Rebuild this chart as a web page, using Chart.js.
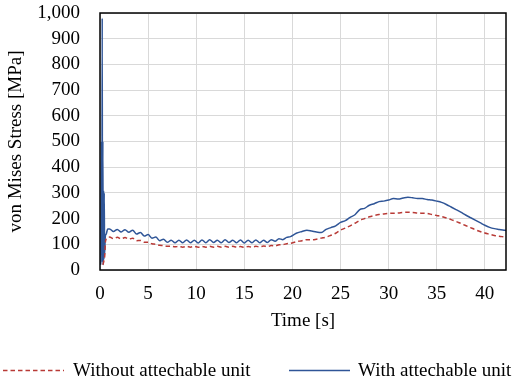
<!DOCTYPE html>
<html>
<head>
<meta charset="utf-8">
<script src="https://cdn.jsdelivr.net/npm/chart.js@4/dist/chart.umd.min.js"></script>
<style>
  html, body { margin: 0; padding: 0; background: #fff; }
  #wrap { width: 520px; height: 384px; position: relative; }
</style>
</head>
<body>
<div id="wrap"><canvas id="c" width="520" height="384"></canvas></div>
<script>
// ---- data ----
const seriesLabels = ["Without attechable unit", "With attechable unit"];

const withoutTime = [0.3, 0.4, 0.5, 0.55, 0.6, 0.7,
  1.0, 1.4, 1.8, 2.2, 2.6, 3.0, 3.4, 3.8, 4.2, 4.6, 5.0, 5.4, 5.8, 6.2, 6.6, 7.0, 7.4, 7.8, 8.2, 8.6,
  9.0, 9.4, 9.8, 10.2, 10.6, 11.0, 11.4, 11.8, 12.2, 12.6, 13.0, 13.4, 13.8, 14.2, 14.6, 15.0, 15.4, 15.8,
  16.2, 16.6, 17.0, 17.4, 17.8, 18.2, 18.6, 19.0, 19.4, 19.8,
  20.4, 21.0, 21.5, 22.0, 22.5, 23.0, 23.5, 24.0, 24.5, 25.0, 25.5, 26.0, 26.5, 27.0, 27.5, 28.0, 28.5,
  29.0, 29.5, 30.0, 30.5, 31.0, 31.5, 32.0, 32.5, 33.0, 33.5, 34.0, 34.5, 35.0, 35.5, 36.0, 36.5, 37.0,
  37.5, 38.0, 38.5, 39.0, 39.5, 40.0, 40.5, 41.0, 41.5, 42.0, 42.2];
const withoutStress = [20, 35, 60, 100, 120, 118,
  128, 122, 127, 121, 126, 120, 124, 114, 115, 108, 108, 102, 100, 96, 95, 92, 93, 90, 92, 89,
  92, 89, 92, 89, 92, 89, 92, 89, 92, 89, 92, 89, 92, 89, 91, 88, 91, 89,
  92, 90, 93, 91, 95, 94, 98, 99, 102, 104,
  110, 114, 118, 117, 120, 124, 128, 135, 143, 155, 163, 172, 182, 193, 200, 207, 212,
  216, 218, 220, 221, 222, 224, 225, 224, 222, 221, 220, 216, 212, 208, 202, 196, 189,
  181, 173, 165, 157, 150, 144, 139, 134, 131, 129, 128];

const withTime = [0.05, 0.1, 0.15, 0.2, 0.23, 0.26, 0.3, 0.33, 0.37, 0.4, 0.44, 0.48, 0.55, 0.65, 0.8,
  1.0, 1.4, 1.8, 2.2, 2.6, 3.0, 3.4, 3.8, 4.2, 4.6, 5.0, 5.4, 5.8, 6.2, 6.6, 7.0, 7.4, 7.8, 8.2, 8.6,
  9.0, 9.4, 9.8, 10.2, 10.6, 11.0, 11.4, 11.8, 12.2, 12.6, 13.0, 13.4, 13.8, 14.2, 14.6, 15.0, 15.4, 15.8,
  16.2, 16.6, 17.0, 17.4, 17.8, 18.2, 18.6, 19.0, 19.4, 19.8,
  20.4, 21.0, 21.5, 22.0, 22.5, 23.0, 23.5, 24.0, 24.5, 25.0, 25.5, 26.0, 26.5, 27.0, 27.5, 28.0, 28.5,
  29.0, 29.5, 30.0, 30.5, 31.0, 31.5, 32.0, 32.5, 33.0, 33.5, 34.0, 34.5, 35.0, 35.5, 36.0, 36.5, 37.0,
  37.5, 38.0, 38.5, 39.0, 39.5, 40.0, 40.5, 41.0, 41.5, 42.0, 42.2];
const withStress = [20, 40, 500, 60, 980, 30, 500, 20, 310, 40, 300, 60, 130, 140, 160,
  160, 150, 158, 148, 157, 147, 155, 140, 146, 132, 138, 124, 128, 114, 120, 108, 116, 106, 116, 106,
  117, 106, 116, 105, 117, 106, 118, 107, 116, 106, 118, 107, 116, 106, 117, 105, 116, 106,
  117, 106, 116, 107, 118, 112, 122, 118, 127, 130,
  143, 150, 155, 152, 148, 146, 158, 165, 172, 185, 192, 205, 215, 235, 240, 252, 258,
  266, 268, 272, 278, 276, 280, 283, 281, 278, 278, 274, 272, 268, 263, 255, 245, 235,
  225, 214, 204, 194, 184, 174, 166, 161, 158, 155, 154];

const yTicks = [0, 100, 200, 300, 400, 500, 600, 700, 800, 900, 1000];
const xTicks = [0, 5, 10, 15, 20, 25, 30, 35, 40];

// ---- styling ----
const FONT = "'Liberation Serif', 'Times New Roman', serif";
const RED = '#B83A36';
const BLUE = '#2F5597';

function toPoints(xs, ys) { return xs.map((x, i) => ({ x: x, y: ys[i] })); }

const frameAndLegend = {
  id: 'frameAndLegend',
  afterDatasetsDraw(chart) {
    const { ctx, chartArea: a } = chart;
    ctx.save();
    ctx.strokeStyle = '#000';
    ctx.lineWidth = 1.5;
    ctx.strokeRect(a.left, a.top, a.right - a.left, a.bottom - a.top);
    ctx.restore();
  },
  afterDraw(chart) {
    const ctx = chart.ctx;
    const items = [
      { ds: chart.data.datasets[0], lx: 3, tx: 73 },
      { ds: chart.data.datasets[1], lx: 289, tx: 358 }
    ];
    const y = 370.5;
    ctx.save();
    items.forEach(it => {
      ctx.beginPath();
      ctx.strokeStyle = it.ds.borderColor;
      ctx.lineWidth = it.ds.borderWidth;
      ctx.setLineDash(it.ds.borderDash || []);
      ctx.moveTo(it.lx, y);
      ctx.lineTo(it.lx + 61, y);
      ctx.stroke();
      ctx.setLineDash([]);
      ctx.fillStyle = '#000';
      ctx.font = "19px " + FONT;
      ctx.textBaseline = 'middle';
      ctx.textAlign = 'left';
      ctx.fillText(it.ds.label, it.tx, y + 1);
    });
    ctx.restore();
  }
};

new Chart(document.getElementById('c'), {
  type: 'line',
  data: {
    datasets: [
      {
        label: seriesLabels[0],
        data: toPoints(withoutTime, withoutStress),
        borderColor: RED,
        borderWidth: 1.5,
        borderDash: [4.5, 3],
        pointRadius: 0,
        fill: false,
        cubicInterpolationMode: 'monotone'
      },
      {
        label: seriesLabels[1],
        data: toPoints(withTime, withStress),
        borderColor: BLUE,
        borderWidth: 1.5,
        pointRadius: 0,
        fill: false,
        cubicInterpolationMode: 'monotone'
      }
    ]
  },
  options: {
    responsive: false,
    animation: false,
    devicePixelRatio: 1,
    layout: { padding: { left: 0, right: 14, top: 13, bottom: 52 } },
    plugins: { legend: { display: false }, tooltip: { enabled: false } },
    scales: {
      x: {
        type: 'linear',
        min: 0,
        max: 42.2,
        afterBuildTicks: s => { s.ticks = xTicks.map(v => ({ value: v })); },
        afterFit: s => { s.height = 62; },
        grid: { color: '#d9d9d9', lineWidth: 1, drawTicks: true, tickLength: 11, tickColor: 'rgba(0,0,0,0)' },
        border: { display: false },
        ticks: { color: '#000', font: { family: FONT, size: 19 }, padding: 2, maxRotation: 0, autoSkip: false },
        title: { display: true, text: 'Time [s]', color: '#000', font: { family: FONT, size: 19 }, padding: { top: 0, bottom: 0 } }
      },
      y: {
        min: 0,
        max: 1000,
        afterBuildTicks: s => { s.ticks = yTicks.map(v => ({ value: v })); },
        afterFit: s => { s.width = 100; },
        grid: { color: '#d9d9d9', lineWidth: 1, drawTicks: true, tickLength: 19, tickColor: 'rgba(0,0,0,0)' },
        border: { display: false },
        ticks: { color: '#000', font: { family: FONT, size: 19 }, padding: 1, autoSkip: false,
          callback: v => v.toLocaleString('en-US') },
        title: { display: true, text: 'von Mises Stress [MPa]', color: '#000', font: { family: FONT, size: 19 }, padding: { top: 5, bottom: 0 } }
      }
    }
  },
  plugins: [frameAndLegend]
});
</script>
</body>
</html>
